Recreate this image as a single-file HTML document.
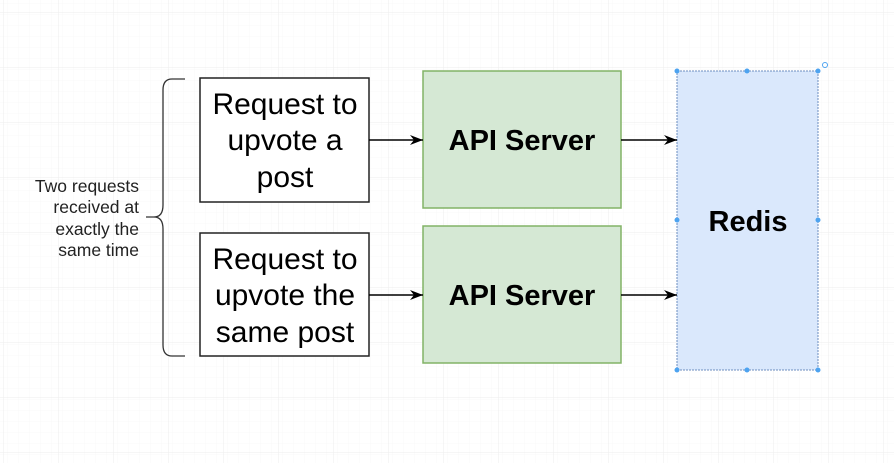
<!DOCTYPE html>
<html><head><style>
body{margin:0;width:894px;height:463px;overflow:hidden;background:#fff;font-family:"Liberation Sans",Arial,sans-serif;}
</style></head><body>
<svg width="894" height="463" xmlns="http://www.w3.org/2000/svg">
<defs>
<pattern id="sg" width="11" height="11" patternUnits="userSpaceOnUse" x="4" y="13"><path d="M11 0V11M0 11H11" stroke="#f8f8f8" stroke-width="1" fill="none"/></pattern>
<pattern id="g" width="55" height="55" patternUnits="userSpaceOnUse" x="4" y="13"><rect width="55" height="55" fill="url(#sg)"/><path d="M55 0V55M0 55H55" stroke="#ededed" stroke-width="1" fill="none"/></pattern>
<marker id="a" markerWidth="14" markerHeight="12" refX="13" refY="6" orient="auto" markerUnits="userSpaceOnUse"><path d="M0 1L13 6L0 11L4 6Z" fill="#000"/></marker>
</defs>
<rect width="894" height="463" fill="url(#g)"/>
<path d="M185 79H172Q163 79 163 90V205Q163 217 154 217H146M154 217Q163 217 163 229V345Q163 356 172 356H185" fill="none" stroke="#333" stroke-width="1.3"/>
<g font-size="17.5" fill="#222" text-anchor="end">
<text x="139" y="192">Two requests</text><text x="139" y="213">received at</text><text x="139" y="235">exactly the</text><text x="139" y="256">same time</text></g>
<rect x="200" y="78" width="169" height="124" fill="#fff" stroke="#222" stroke-width="1.5"/>
<rect x="200" y="233" width="169" height="123" fill="#fff" stroke="#222" stroke-width="1.5"/>
<g font-size="30" fill="#000" text-anchor="middle">
<text x="285" y="114">Request to</text><text x="285" y="150">upvote a</text><text x="285" y="187">post</text>
<text x="285" y="269">Request to</text><text x="285" y="305">upvote the</text><text x="285" y="342">same post</text></g>
<rect x="423" y="71" width="198" height="137" fill="#d5e8d4" stroke="#82b366" stroke-width="1.5"/>
<rect x="423" y="226" width="198" height="137" fill="#d5e8d4" stroke="#82b366" stroke-width="1.5"/>
<rect x="677" y="71" width="141" height="299" fill="#dae8fc" stroke="#6c8ebf" stroke-width="1" stroke-dasharray="2 1"/>
<g font-size="29" font-weight="bold" fill="#000" text-anchor="middle">
<text x="522" y="150">API Server</text><text x="522" y="305">API Server</text><text x="748" y="231">Redis</text></g>
<g stroke="#000" stroke-width="1.5" marker-end="url(#a)">
<line x1="369" y1="140" x2="423" y2="140"/><line x1="369" y1="295" x2="423" y2="295"/>
<line x1="621" y1="140" x2="677" y2="140"/><line x1="621" y1="295" x2="677" y2="295"/></g>
<g fill="#4da3f0">
<circle cx="677" cy="71" r="2.5"/><circle cx="747" cy="71" r="2.5"/><circle cx="818" cy="71" r="2.5"/>
<circle cx="677" cy="220" r="2.5"/><circle cx="818" cy="220" r="2.5"/>
<circle cx="677" cy="370" r="2.5"/><circle cx="747" cy="370" r="2.5"/><circle cx="818" cy="370" r="2.5"/></g>
<circle cx="825" cy="65" r="2.5" fill="none" stroke="#4da3f0" stroke-width="1"/>
</svg>
</body></html>
